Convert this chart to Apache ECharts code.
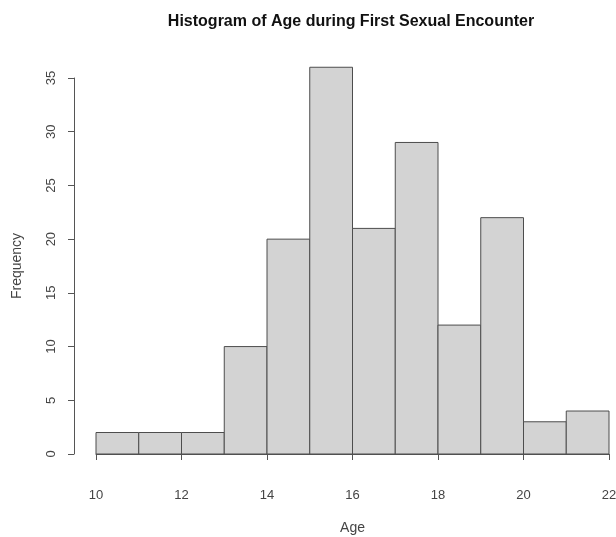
<!DOCTYPE html>
<html>
<head>
<meta charset="utf-8">
<script src="https://cdn.jsdelivr.net/npm/echarts@6/dist/echarts.min.js"></script>
<style>
  html, body { margin: 0; padding: 0; background: #fff; }
  #chart { width: 616px; height: 537px; }
</style>
</head>
<body>
<div id="chart"></div>
<script>
  // histogram bins (age) and counts
  const binStarts = [10, 11, 12, 13, 14, 15, 16, 17, 18, 19, 20, 21];
  const binEnds = [11, 12, 13, 14, 15, 16, 17, 18, 19, 20, 21, 22];
  const counts = [2, 2, 2, 10, 20, 36, 21, 29, 12, 22, 3, 4];

  const xTicks = [10, 12, 14, 16, 18, 20, 22];
  const yTicks = [0, 5, 10, 15, 20, 25, 30, 35];

  const chart = echarts.init(document.getElementById('chart'));

  const font = 'Liberation Sans, Arial, sans-serif';
  const textColor = '#444';
  const lineColor = '#555';

  const option = {
    animation: false,
    title: {
      text: 'Histogram of Age during First Sexual Encounter',
      left: 346,
      top: 9,
      textAlign: 'center',
      textStyle: {
        fontFamily: font,
        fontSize: 16,
        fontWeight: 'bold',
        color: '#111'
      }
    },
    grid: {
      left: 96,
      right: 7,
      top: 78,
      bottom: 83,
      outerBoundsMode: 'none'
    },
    xAxis: {
      type: 'value',
      min: xTicks[0],
      max: xTicks[xTicks.length - 1],
      interval: 2,
      offset: 17,
      name: 'Age',
      nameLocation: 'middle',
      nameGap: 50,
      nameTextStyle: { fontFamily: font, fontSize: 14, color: textColor },
      axisLine: { show: true, lineStyle: { color: lineColor, width: 1 } },
      axisTick: { show: true, length: 6, inside: false, lineStyle: { color: lineColor } },
      axisLabel: {
        margin: 18,
        fontFamily: font,
        fontSize: 13,
        color: textColor,
        showMinLabel: true,
        showMaxLabel: true
      },
      splitLine: { show: false }
    },
    yAxis: {
      type: 'value',
      min: yTicks[0],
      max: yTicks[yTicks.length - 1],
      interval: 5,
      offset: 22,
      name: 'Frequency',
      nameLocation: 'middle',
      nameRotate: 90,
      nameGap: 50,
      nameTextStyle: { fontFamily: font, fontSize: 14, color: textColor },
      axisLine: { show: true, lineStyle: { color: lineColor, width: 1 } },
      axisTick: { show: true, length: 6, lineStyle: { color: lineColor } },
      axisLabel: {
        rotate: 90,
        margin: 16,
        fontFamily: font,
        fontSize: 13,
        color: textColor
      },
      splitLine: { show: false }
    },
    series: [
      {
        type: 'custom',
        clip: false,
        data: counts.map((c, i) => [binStarts[i], binEnds[i], c]),
        renderItem: function (params, api) {
          const p0 = api.coord([api.value(0), 0]);
          const p1 = api.coord([api.value(1), api.value(2)]);
          return {
            type: 'rect',
            shape: {
              x: p0[0],
              y: p1[1],
              width: p1[0] - p0[0],
              height: p0[1] - p1[1]
            },
            style: {
              fill: '#d3d3d3',
              stroke: '#4d4d4d',
              lineWidth: 1
            }
          };
        }
      }
    ]
  };

  chart.setOption(option);
</script>
</body>
</html>
